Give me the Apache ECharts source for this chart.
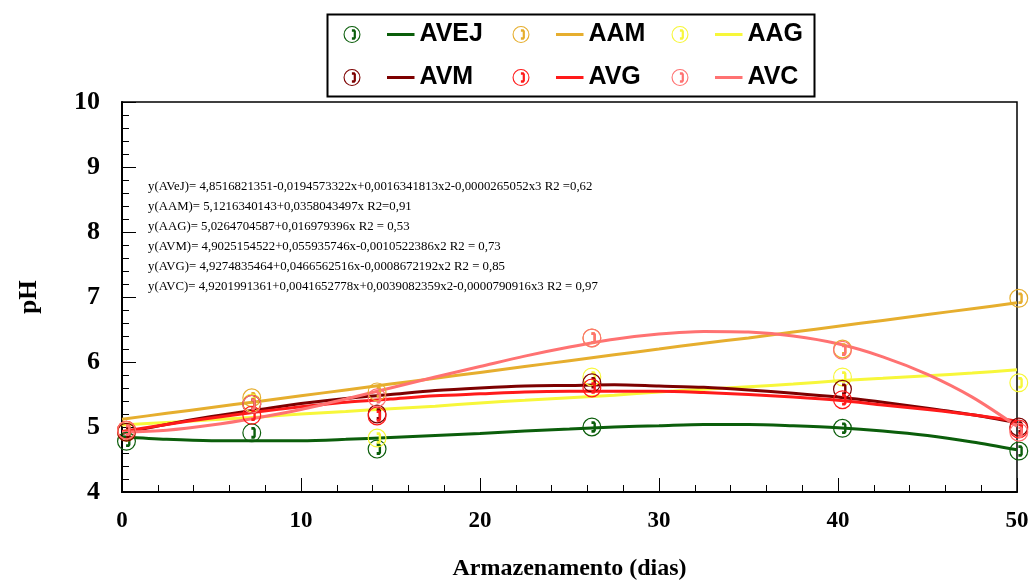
<!DOCTYPE html>
<html>
<head>
<meta charset="utf-8">
<script src="https://cdn.jsdelivr.net/npm/echarts@6/dist/echarts.min.js"></script>
<style>
    html, body { margin: 0; padding: 0; background: #fff; }
    #main { width: 1031px; height: 581px; }
</style>
</head>
<body>
<div id="main"></div>
<script>
// dias de armazenamento das amostras
var days = [0.25, 7.25, 14.25, 26.25, 40.25, 50.1];

// pH medido
var avej = [4.78, 4.91, 4.66, 5.00, 4.98, 4.63];
var aam = [4.95, 5.45, 5.54, 6.37, 6.20, 6.98];
var aag = [4.92, 5.37, 4.83, 5.77, 5.77, 5.68];
var avm = [4.92, 5.35, 5.20, 5.68, 5.58, 5.00];
var avg = [4.95, 5.18, 5.17, 5.60, 5.42, 4.97];
var avc = [4.95, 5.35, 5.45, 6.37, 6.18, 4.92];

// curvas de ajuste
var fitX = [0, 2.5, 5, 7.5, 10, 12.5, 15, 17.5, 20, 22.5, 25, 27.5, 30, 32.5, 35, 37.5, 40, 42.5, 45, 47.5, 50];
var fitAvej = [4.85, 4.81, 4.79, 4.79, 4.79, 4.81, 4.84, 4.87, 4.90, 4.94, 4.97, 5.00, 5.02, 5.04, 5.04, 5.02, 4.99, 4.94, 4.87, 4.77, 4.65];
var fitAam = [5.12, 5.21, 5.30, 5.39, 5.48, 5.57, 5.66, 5.75, 5.84, 5.93, 6.02, 6.11, 6.20, 6.29, 6.37, 6.46, 6.55, 6.64, 6.73, 6.82, 6.91];
var fitAag = [5.03, 5.07, 5.11, 5.15, 5.20, 5.24, 5.28, 5.32, 5.37, 5.41, 5.45, 5.49, 5.54, 5.58, 5.62, 5.66, 5.71, 5.75, 5.79, 5.83, 5.88];
var fitAvm = [4.90, 5.04, 5.16, 5.26, 5.36, 5.44, 5.50, 5.56, 5.60, 5.63, 5.64, 5.65, 5.63, 5.61, 5.57, 5.52, 5.46, 5.38, 5.29, 5.19, 5.07];
var fitAvg = [4.93, 5.04, 5.14, 5.23, 5.31, 5.38, 5.43, 5.48, 5.51, 5.54, 5.55, 5.55, 5.55, 5.53, 5.50, 5.46, 5.41, 5.34, 5.27, 5.19, 5.09];
var fitAvc = [4.92, 4.95, 5.03, 5.14, 5.27, 5.43, 5.60, 5.77, 5.93, 6.09, 6.23, 6.35, 6.43, 6.47, 6.46, 6.40, 6.28, 6.08, 5.81, 5.46, 5.01];

var names = ['AVEJ', 'AAM', 'AAG', 'AVM', 'AVG', 'AVC'];
var colors = ['#0b5e0b', '#e6ae2e', '#f7f73a', '#7d0000', '#ff1a1a', '#ff7272'];

var equations = [
    'y(AVeJ)= 4,8516821351-0,0194573322x+0,0016341813x2-0,0000265052x3 R2 =0,62',
    'y(AAM)= 5,1216340143+0,0358043497x R2=0,91',
    'y(AAG)= 5,0264704587+0,016979396x R2 = 0,53',
    'y(AVM)= 4,9025154522+0,055935746x-0,0010522386x2 R2 = 0,73',
    'y(AVG)= 4,9274835464+0,0466562516x-0,0008672192x2 R2 = 0,85',
    'y(AVC)= 4,9201991361+0,0041652778x+0,0039082359x2-0,0000790916x3 R2 = 0,97'
];

// simbolo: circulo com "telefone" dentro
var phoneSymbol = 'path://M0.5 10 A9.5 9.5 0 1 1 19.5 10 A9.5 9.5 0 1 1 0.5 10 Z ' +
    'M1.7 10 A8.3 8.3 0 1 0 18.3 10 A8.3 8.3 0 1 0 1.7 10 Z ' +
    'M9.6 4.2 L12.6 4.2 L14 6.2 L14 13.8 L12.6 15.8 L9.6 15.8 L9.6 13 L11.6 13 L11.6 7 L9.6 7 Z';
var legendIcon = 'path://M0 8.5 A8.5 8.5 0 1 1 17 8.5 A8.5 8.5 0 1 1 0 8.5 Z ' +
    'M1.1 8.5 A7.4 7.4 0 1 0 15.9 8.5 A7.4 7.4 0 1 0 1.1 8.5 Z ' +
    'M8.4 3.3 L11.1 3.3 L12.4 5.1 L12.4 11.9 L11.1 13.7 L8.4 13.7 L8.4 11.2 L10.2 11.2 L10.2 5.8 L8.4 5.8 Z ' +
    'M43.5 7 L71 7 L71 10 L43.5 10 Z';

var measured = [avej, aam, aag, avm, avg, avc];
var fits = [fitAvej, fitAam, fitAag, fitAvm, fitAvg, fitAvc];

function pairs(xs, ys) {
    var out = [];
    for (var i = 0; i < xs.length; i++) {
        out.push([xs[i], ys[i]]);
    }
    return out;
}

var series = [];
for (var i = 0; i < names.length; i++) {
    series.push({
        name: names[i],
        type: 'line',
        smooth: 0.3,
        showSymbol: false,
        symbol: 'none',
        z: 2,
        itemStyle: { color: colors[i] },
        lineStyle: { color: colors[i], width: 3 },
        data: pairs(fitX, fits[i])
    });
}
for (var j = 0; j < names.length; j++) {
    series.push({
        name: names[j],
        type: 'scatter',
        symbol: phoneSymbol,
        symbolSize: 19,
        clip: false,
        z: 3,
        itemStyle: { color: colors[j], opacity: 1 },
        data: pairs(days, measured[j])
    });
}

function legendCol(left, list) {
    return {
        orient: 'vertical',
        left: left,
        top: 22,
        padding: 0,
        itemGap: 18,
        itemWidth: 71,
        itemHeight: 17,
        selectedMode: false,
        itemStyle: { borderWidth: 0 },
        textStyle: {
            fontFamily: 'Liberation Sans',
            fontWeight: 'bold',
            fontSize: 25,
            color: '#000'
        },
        data: list.map(function (n) {
            return { name: n, icon: legendIcon };
        })
    };
}

var myChart = echarts.init(document.getElementById('main'));

var option = {
    animation: false,
    backgroundColor: '#fff',
    grid: {
        left: 122,
        right: 14,
        top: 102,
        bottom: 89,
        outerBoundsMode: 'none',
        show: true,
        borderColor: '#000',
        borderWidth: 1.5
    },
    legend: [
        legendCol(343.5, ['AVEJ', 'AVM']),
        legendCol(512.5, ['AAM', 'AVG']),
        legendCol(671.5, ['AAG', 'AVC'])
    ],
    xAxis: {
        type: 'value',
        min: 0,
        max: 50,
        interval: 10,
        name: 'Armazenamento (dias)',
        nameLocation: 'middle',
        nameGap: 65,
        nameTextStyle: {
            fontFamily: 'Liberation Serif',
            fontWeight: 'bold',
            fontSize: 24,
            color: '#000'
        },
        axisLine: { lineStyle: { color: '#000', width: 2 } },
        axisTick: { inside: true, length: 14, lineStyle: { color: '#000', width: 1 } },
        minorTick: { show: true, splitNumber: 5, length: 7, lineStyle: { color: '#000', width: 1 } },
        splitLine: { show: false },
        axisLabel: {
            margin: 18,
            fontFamily: 'Liberation Serif',
            fontWeight: 'bold',
            fontSize: 23,
            color: '#000'
        }
    },
    yAxis: {
        type: 'value',
        min: 4,
        max: 10,
        interval: 1,
        name: 'pH',
        nameLocation: 'middle',
        nameGap: 80,
        nameRotate: 90,
        nameTextStyle: {
            fontFamily: 'Liberation Serif',
            fontWeight: 'bold',
            fontSize: 25,
            color: '#000'
        },
        axisLine: { show: true, lineStyle: { color: '#000', width: 2 } },
        axisTick: { show: true, inside: true, length: 14, lineStyle: { color: '#000', width: 1 } },
        minorTick: { show: true, splitNumber: 5, length: 7, lineStyle: { color: '#000', width: 1 } },
        splitLine: { show: false },
        axisLabel: {
            margin: 22,
            fontFamily: 'Liberation Serif',
            fontWeight: 'bold',
            fontSize: 26,
            color: '#000'
        }
    },
    graphic: [
        {
            type: 'rect',
            left: 325,
            top: 12,
            shape: { width: 487, height: 82 },
            style: { fill: 'none', stroke: '#000', lineWidth: 2 },
            z: -1
        },
        {
            type: 'text',
            left: 148,
            top: 177,
            style: {
                text: equations.join('\n'),
                font: '12.8px "Liberation Serif"',
                lineHeight: 20,
                fill: '#000'
            }
        }
    ],
    series: series
};

myChart.setOption(option);
</script>
</body>
</html>
